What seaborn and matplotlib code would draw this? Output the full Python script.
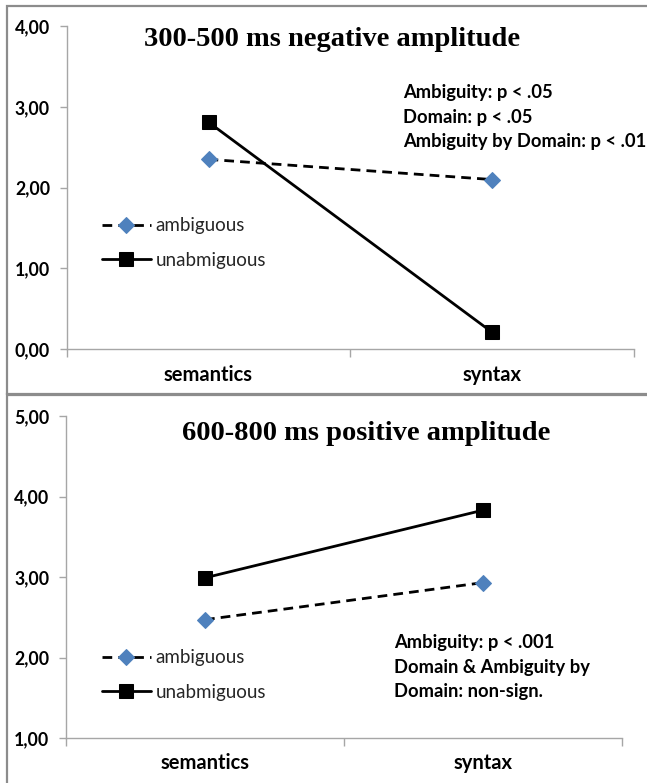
import pandas as pd
import seaborn as sns
import matplotlib.pyplot as plt
from matplotlib.patches import Rectangle
from matplotlib.ticker import FixedLocator

sns.set_theme(style="white")
plt.rcParams['font.family'] = ['Lato', 'DejaVu Sans']

# datos
domains = ['semantics', 'syntax']
conditions = ['ambiguous', 'unabmiguous']
neg_ambiguous = [2.35, 2.10]
neg_unambiguous = [2.81, 0.21]
pos_ambiguous = [2.47, 2.93]
pos_unambiguous = [2.99, 3.83]

titles = ['300-500 ms negative amplitude', '600-800 ms positive amplitude']
notes = ['Ambiguity: p < .05\nDomain: p < .05\nAmbiguity by Domain: p < .01',
         'Ambiguity: p < .001\nDomain & Ambiguity by\nDomain: non-sign.']
y_ticks = [[0, 1, 2, 3, 4], [1, 2, 3, 4, 5]]

W, H = 647, 783
BLUE = '#4F81BD'
GRID = '#A6A6A6'


def fx(px):
    return px / W


def fy(py):
    return 1 - py / H


def make_df(amb, unamb):
    return pd.DataFrame({
        'domain': domains * 2,
        'condition': [conditions[0]] * 2 + [conditions[1]] * 2,
        'amplitude': amb + unamb,
    })


fig = plt.figure(figsize=(W / 100, H / 100), dpi=100)

# marcos de los dos paneles
fig.patches.append(Rectangle((fx(7), fy(395)), 1, fy(6) - fy(395), transform=fig.transFigure,
                             fill=False, edgecolor='#8C8C8C', linewidth=1.6))
fig.patches.append(Rectangle((fx(7), -0.1), 1, fy(394) + 0.1, transform=fig.transFigure,
                             fill=False, edgecolor='#8C8C8C', linewidth=1.6))

panels = [
    dict(df=make_df(neg_ambiguous, neg_unambiguous), rect=[fx(66.7), fy(349.3), fx(634) - fx(66.7), fy(26) - fy(349.3)],
         ylim=(0, 4), title_xy=(332, 39), note_xy=(403, 117), leg_xy=(102, 243)),
    dict(df=make_df(pos_ambiguous, pos_unambiguous), rect=[fx(66), fy(738), fx(622) - fx(66), fy(416) - fy(738)],
         ylim=(1, 5), title_xy=(366, 433), note_xy=(394, 667), leg_xy=(102, 675)),
]

for i, p in enumerate(panels):
    ax = fig.add_axes(p['rect'])
    df = p['df']
    amb = df[df['condition'] == 'ambiguous']
    una = df[df['condition'] == 'unabmiguous']
    sns.lineplot(data=amb, x='domain', y='amplitude', ax=ax, color='black', linewidth=2.0,
                 linestyle=(0, (3.5, 2.2)), marker='D', markersize=8.5,
                 markerfacecolor=BLUE, markeredgecolor=BLUE, label='ambiguous')
    sns.lineplot(data=una, x='domain', y='amplitude', ax=ax, color='black', linewidth=2.0,
                 marker='s', markersize=10, markerfacecolor='black', markeredgecolor='black',
                 label='unabmiguous')

    ax.set_xlim(-0.5, 1.5)
    ax.set_ylim(*p['ylim'])
    ax.set_yticks(y_ticks[i])
    ax.set_yticklabels([f'{v:.2f}'.replace('.', ',') for v in y_ticks[i]])
    ax.set_xlabel('')
    ax.set_ylabel('')
    for side in ['top', 'right']:
        ax.spines[side].set_visible(False)
    for side in ['left', 'bottom']:
        ax.spines[side].set_color(GRID)
        ax.spines[side].set_linewidth(1.0)
    ax.xaxis.set_minor_locator(FixedLocator([-0.5, 0.5, 1.5]))
    ax.tick_params(axis='x', which='major', length=0, pad=11, labelsize=14.5)
    ax.tick_params(axis='x', which='minor', length=6, width=1.0, color=GRID, direction='out', bottom=True)
    ax.tick_params(axis='y', length=5, width=1.0, color=GRID, direction='out', left=True, pad=7,
                   labelsize=12.8)
    for lab in ax.get_xticklabels() + ax.get_yticklabels():
        lab.set_fontweight('bold')
        lab.set_color('black')

    leg = ax.legend(loc='center left', bbox_to_anchor=(fx(p['leg_xy'][0]), fy(p['leg_xy'][1])),
                    bbox_transform=fig.transFigure, frameon=False, fontsize=13.5, borderpad=0,
                    borderaxespad=0, handlelength=2.6, handletextpad=0.25, labelspacing=0.95,
                    numpoints=1)

    fig.text(fx(p['title_xy'][0]), fy(p['title_xy'][1]), titles[i], ha='center', va='center',
             fontsize=20.5, fontweight='bold', family='Liberation Serif', color='black')
    fig.text(fx(p['note_xy'][0]), fy(p['note_xy'][1]), notes[i], ha='left', va='center',
             fontsize=13.2, fontweight='bold', linespacing=1.55, color='black')

fig.savefig('out.png', dpi=100, facecolor='white')
